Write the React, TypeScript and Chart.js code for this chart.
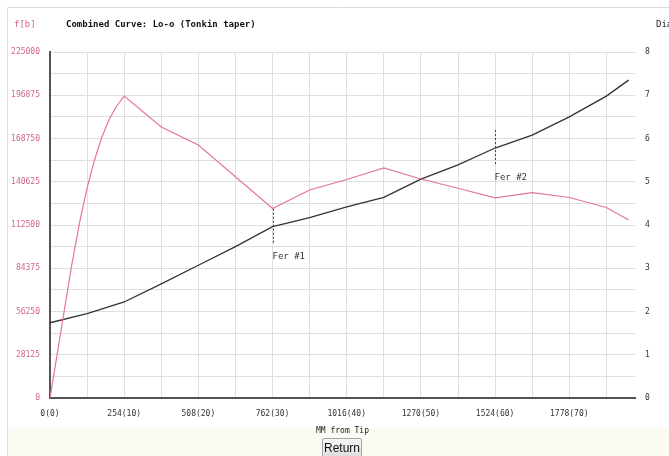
import React, { useEffect, useRef } from "react";
import { Chart, registerables } from "chart.js";

Chart.register(...registerables);

// Force curve (lb), positions in inches from tip
const forceInches = [0, 1, 2, 3, 4, 5, 6, 7, 8, 9, 10, 15, 20, 30, 35, 40, 45, 50, 55, 60, 65, 70, 75, 78];
const forceValues = [0, 29300, 59200, 88400, 114400, 136600, 154800, 169700, 181400, 189900, 196300, 176200, 164500, 123200, 135300, 142100, 149600, 142400, 136400, 130100, 133600, 130400, 123900, 115700];

// Diameter curve (right axis)
const diaInches = [0, 5, 10, 15, 20, 25, 30, 35, 40, 45, 50, 55, 60, 65, 70, 75, 78];
const diaValues = [1.74, 1.95, 2.22, 2.64, 3.07, 3.5, 3.96, 4.17, 4.42, 4.64, 5.06, 5.39, 5.78, 6.08, 6.5, 6.98, 7.35];

const ferrules = [30, 60]; // inches
const ferruleLabels = ["Fer #1", "Fer #2"];

const title = "Combined Curve: Lo-o (Tonkin taper)";
const leftAxisLabel = "f[b]";
const rightAxisLabel = "Dia";
const xAxisLabel = "MM from Tip";

const MM = 25.4;
const PINK = "#e3788f";
const PINK_TEXT = "#d26585";
const MONO = "'DejaVu Sans Mono', monospace";

export default function App() {
  const ref = useRef<HTMLCanvasElement | null>(null);

  useEffect(() => {
    const canvas = ref.current;
    if (!canvas) return;

    const overlay = {
      id: "overlay",
      beforeDraw(chart: any) {
        const ctx = chart.ctx;
        ctx.save();
        ctx.fillStyle = "#ffffff";
        ctx.fillRect(0, 0, 669, 456);
        ctx.fillStyle = "#fbfaf3";
        ctx.fillRect(8, 428, 661, 28);
        ctx.strokeStyle = "#dcdcd6";
        ctx.lineWidth = 1;
        ctx.beginPath();
        ctx.moveTo(7.5, 456);
        ctx.lineTo(7.5, 7.5);
        ctx.lineTo(669, 7.5);
        ctx.stroke();
        ctx.restore();
      },
      afterDatasetsDraw(chart: any) {
        const ctx = chart.ctx;
        const xs = chart.scales.x;
        const y2 = chart.scales.y2;
        ctx.save();
        ferrules.forEach((inch, i) => {
          const idx = diaInches.indexOf(inch);
          const x = Math.round(xs.getPixelForValue(inch * MM)) + 0.5;
          const yc = y2.getPixelForValue(diaValues[idx]);
          ctx.strokeStyle = "#444";
          ctx.lineWidth = 1;
          ctx.setLineDash([2, 2]);
          ctx.beginPath();
          ctx.moveTo(x, yc - 18);
          ctx.lineTo(x, yc + 18);
          ctx.stroke();
          ctx.setLineDash([]);
          ctx.fillStyle = "#333";
          ctx.font = `9px ${MONO}`;
          ctx.textAlign = "left";
          ctx.textBaseline = "middle";
          ctx.fillText(ferruleLabels[i], x - 1, yc + 30);
        });
        ctx.restore();
      },
      afterDraw(chart: any) {
        const ctx = chart.ctx;
        ctx.save();
        ctx.textBaseline = "middle";
        ctx.textAlign = "left";
        ctx.font = `9px ${MONO}`;
        ctx.fillStyle = PINK_TEXT;
        ctx.fillText(leftAxisLabel, 14, 25);
        ctx.font = `bold 9px ${MONO}`;
        ctx.fillStyle = "#111";
        ctx.fillText(title, 66, 25);
        ctx.font = `9px ${MONO}`;
        ctx.fillStyle = "#222";
        ctx.fillText(rightAxisLabel, 656, 25);
        ctx.restore();
      },
    };

    const chart = new Chart(canvas, {
      type: "line",
      data: {
        datasets: [
          {
            label: "Force",
            data: forceInches.map((v, i) => ({ x: v * MM, y: forceValues[i] })),
            borderColor: PINK,
            borderWidth: 1.2,
            pointRadius: 0,
            tension: 0,
            yAxisID: "y",
          },
          {
            label: "Dia",
            data: diaInches.map((v, i) => ({ x: v * MM, y: diaValues[i] })),
            borderColor: "#333",
            borderWidth: 1.3,
            pointRadius: 0,
            tension: 0,
            yAxisID: "y2",
          },
        ],
      },
      options: {
        responsive: false,
        animation: false,
        layout: { padding: { top: 52, left: 0, right: 0, bottom: 0 } },
        plugins: {
          legend: { display: false },
          tooltip: { enabled: false },
        },
        scales: {
          x: {
            type: "linear",
            min: 0,
            max: 2003,
            afterBuildTicks: (scale: any) => {
              scale.ticks = scale.ticks.filter((t: any) => Math.abs(t.value % 127) < 0.01);
            },
            afterFit: (scale: any) => {
              scale.height = 58;
            },
            ticks: {
              stepSize: 127,
              autoSkip: false,
              maxRotation: 0,
              padding: 11,
              color: "#333",
              font: { family: MONO, size: 8 },
              callback: (v: any) => (Math.round(v) % 254 === 0 ? `${Math.round(v)}(${Math.round(v / MM)})` : ""),
            },
            grid: { color: "#dedede", drawTicks: false },
            border: { color: "#555", width: 2 },
            title: {
              display: true,
              text: xAxisLabel,
              color: "#222",
              font: { family: MONO, size: 8 },
              padding: { top: 0, bottom: 20 },
            },
          },
          y: {
            position: "left",
            min: 0,
            max: 225000,
            afterFit: (scale: any) => {
              scale.width = 50;
            },
            ticks: {
              stepSize: 14062.5,
              autoSkip: false,
              padding: 10,
              color: PINK_TEXT,
              font: { family: MONO, size: 8 },
              callback: (v: any) => (Math.abs(v % 28125) < 0.01 ? String(v) : ""),
            },
            grid: { color: "#dedede", drawTicks: false },
            border: { color: "#555", width: 2 },
          },
          y2: {
            position: "right",
            min: 0,
            max: 8,
            afterFit: (scale: any) => {
              scale.width = 34;
            },
            ticks: {
              stepSize: 1,
              padding: 10,
              color: "#333",
              font: { family: MONO, size: 8 },
            },
            grid: { display: false, drawTicks: false },
            border: { display: false },
          },
        },
      },
      plugins: [overlay],
    } as any);

    return () => chart.destroy();
  }, []);

  return (
    <div style={{ position: "absolute", left: 0, top: 0, width: 669, height: 456, overflow: "hidden" }}>
      <canvas ref={ref} width={669} height={456} style={{ display: "block", width: 669, height: 456 }} />
      <button
        style={{
          position: "absolute",
          left: 322,
          top: 438,
          width: 40,
          height: 20,
          padding: 0,
          fontFamily: "'Liberation Sans', Arial, sans-serif",
          fontSize: 12,
          color: "#111",
          background: "linear-gradient(#f6f6f6, #dcdcdc)",
          border: "1px solid #a8a8a8",
          borderRadius: 2,
        }}
      >
        Return
      </button>
    </div>
  );
}
